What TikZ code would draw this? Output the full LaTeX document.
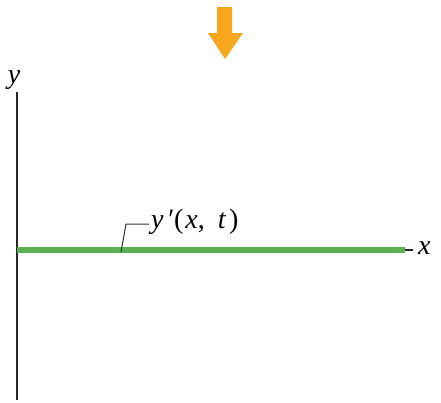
\documentclass[tikz,border=0pt]{standalone}
\usepackage{fontspec}
\setmainfont{Liberation Serif}
\begin{document}
\begin{tikzpicture}[x=1pt,y=-1pt,
  lbl/.style={inner sep=0pt, font=\fontsize{28}{32}\selectfont},
  axisline/.style={line width=1.6pt, black!85},
  wave/.style={line width=5.5pt, draw={rgb,255:red,92;green,176;blue,84}},
  leader/.style={line width=1pt, black!80}]
\useasboundingbox (0,0) rectangle (441,402);
% orange arrow
\fill[fill={rgb,255:red,247;green,166;blue,30}]
  (217,7) -- (232,7) -- (232,33) -- (243,33) -- (225,59) -- (208,33) -- (217,33) -- cycle;
% axes
\coordinate (ytop) at (17,92);
\coordinate (ybot) at (17,400);
\coordinate (xleft) at (17,250);
\coordinate (xright) at (413,250);
\draw[axisline] (ytop) -- (ybot);
\draw[axisline] (xleft) -- (xright);
\node[lbl, anchor=base] (ylab) at (14,83) {\textit{y}};
\node[lbl, anchor=west] (xlab) at (418,248) {\textit{x}};
% green string
\coordinate (gl) at (17,250);
\coordinate (gr) at (405,250);
\draw[wave] (gl) -- (gr);
% label
\coordinate (lp) at (121,252);
\coordinate (lk) at (126,224);
\node[lbl, anchor=base west] (ylab2) at (151,228) {\textit{y}\kern3pt\textit{\char"2032}\kern1pt(\kern2pt\textit{x},\kern13pt\textit{t}\kern3pt)};
\draw[leader] (lp) -- (lk) -- ([xshift=-2pt]ylab2.west |- lk);
\end{tikzpicture}
\end{document}
